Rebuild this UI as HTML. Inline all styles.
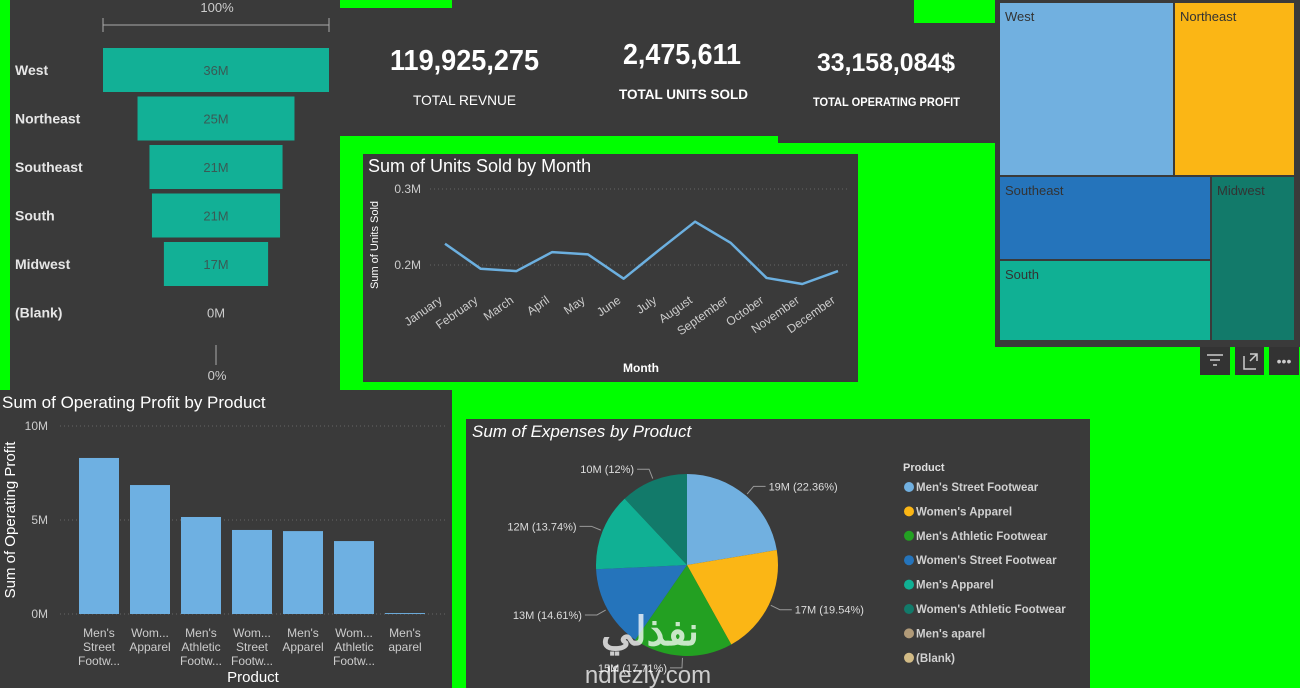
<!DOCTYPE html>
<html><head><meta charset="utf-8"><style>
html,body{margin:0;padding:0;background:#00ff00;}
svg{display:block;font-family:"Liberation Sans",sans-serif;}
.n{font-family:"Liberation Sans Narrow","Liberation Sans",sans-serif;}
</style></head><body>
<svg id="dash" width="1300" height="688" viewBox="0 0 1300 688">
<rect x="0" y="0" width="1300" height="688" fill="#00ff00"/>
<!-- funnel panel -->
<g>
<rect x="10" y="0" width="330" height="390" fill="#3a3a3a"/>
<text x="217" y="12" fill="#ccc" font-size="13" text-anchor="middle">100%</text>
<path d="M103 18 V32 M103 25 H329 M329 18 V32" stroke="#aaa" fill="none"/>
<g id="funnel"></g>
<line x1="216" y1="345" x2="216" y2="365" stroke="#aaa"/>
<text x="217" y="380" fill="#ccc" font-size="13" text-anchor="middle">0%</text>
</g>
<!-- KPI panel -->
<g>
<rect x="340" y="0" width="655" height="143" fill="#3a3a3a"/>
<rect x="340" y="0" width="112" height="8" fill="#00ff00"/>
<rect x="914" y="0" width="81" height="23" fill="#00ff00"/>
<rect x="340" y="136" width="438" height="7" fill="#00ff00"/>
<text class="n" x="390" y="70" fill="#fff" font-size="29" font-weight="bold" textLength="149" lengthAdjust="spacingAndGlyphs">119,925,275</text>
<text class="n" x="413" y="105" fill="#fff" font-size="14" textLength="103" lengthAdjust="spacingAndGlyphs">TOTAL REVNUE</text>
<text class="n" x="623" y="64" fill="#fff" font-size="29" font-weight="bold" textLength="118" lengthAdjust="spacingAndGlyphs">2,475,611</text>
<text class="n" x="619" y="99" fill="#fff" font-size="14" font-weight="bold" textLength="129" lengthAdjust="spacingAndGlyphs">TOTAL UNITS SOLD</text>
<text class="n" x="817" y="71" fill="#fff" font-size="25" font-weight="bold" textLength="138" lengthAdjust="spacingAndGlyphs">33,158,084$</text>
<text class="n" x="813" y="106" fill="#fff" font-size="12" font-weight="bold" textLength="147" lengthAdjust="spacingAndGlyphs">TOTAL OPERATING PROFIT</text>
</g>
<!-- line chart -->
<g>
<rect x="363" y="154" width="495" height="228" fill="#3a3a3a"/>
<text x="368" y="172" fill="#fff" font-size="18">Sum of Units Sold by Month</text>
<text transform="translate(378,245) rotate(-90)" fill="#fff" font-size="11" text-anchor="middle">Sum of Units Sold</text>
<text x="641" y="372" fill="#fff" font-size="12" font-weight="bold" text-anchor="middle">Month</text>
<g id="line"></g>
</g>
<!-- treemap -->
<g>
<rect x="995" y="0" width="305" height="347" fill="#3a3a3a"/>
<g id="tree"></g>
<rect x="1200" y="347" width="30" height="28" fill="#333"/>
<path d="M1207 355 H1223 M1210 360 H1220 M1213 365 H1217" stroke="#ccc" stroke-width="1.5"/>
<rect x="1235" y="347" width="29" height="28" fill="#333"/>
<path d="M1244 356 V369 H1256 M1250 354 H1257 V361 M1257 354 L1250 361" stroke="#ccc" stroke-width="1.5" fill="none"/>
<rect x="1269" y="347" width="30" height="28" fill="#333"/>
<text x="1284" y="366" fill="#ccc" font-size="14" text-anchor="middle">•••</text>
</g>
<!-- bar chart -->
<g>
<rect x="0" y="390" width="452" height="298" fill="#3a3a3a"/>
<text x="2" y="408" fill="#fff" font-size="17">Sum of Operating Profit by Product</text>
<text transform="translate(15,520) rotate(-90)" fill="#fff" font-size="15" text-anchor="middle">Sum of Operating Profit</text>
<text x="253" y="682" fill="#fff" font-size="15" text-anchor="middle">Product</text>
<g id="bars"></g>
</g>
<!-- pie -->
<g>
<rect x="466" y="419" width="624" height="269" fill="#3a3a3a"/>
<text x="472" y="437" fill="#fff" font-size="17" font-style="italic">Sum of Expenses by Product</text>
<text x="903" y="471" fill="#ddd" font-size="11" font-weight="bold">Product</text>
<g id="pie"></g>
<g id="legend"></g>
<text x="650" y="645" fill="#fff" opacity="0.75" font-size="40" font-weight="bold" text-anchor="middle" font-family="'Liberation Sans','Noto Sans CJK SC',sans-serif">نفذلي</text>
<text x="648" y="683" fill="#fff" opacity="0.75" font-size="24" text-anchor="middle">ndfezly.com</text>
</g>
</svg>
<script>
const NS="http://www.w3.org/2000/svg";
function mk(p,t,a){const e=document.createElementNS(NS,t);for(const k in a)e.setAttribute(k,a[k]);p.appendChild(e);return e;}

// funnel data
const regions=["West","Northeast","Southeast","South","Midwest","(Blank)"];
const regionRevenue=[36,25,21.2,20.4,16.6,0];
const regionLabels=["36M","25M","21M","21M","17M","0M"];
// line data
const months=["January","February","March","April","May","June","July","August","September","October","November","December"];
const unitsSold=[0.228,0.195,0.192,0.217,0.214,0.182,0.220,0.257,0.229,0.183,0.175,0.192];
const lineTicks=[0.2,0.3];
const lineTickLabels=["0.2M","0.3M"];
// bar data
const products=[["Men's","Street","Footw..."],["Wom...","Apparel"],["Men's","Athletic","Footw..."],["Wom...","Street","Footw..."],["Men's","Apparel"],["Wom...","Athletic","Footw..."],["Men's","aparel"]];
const profit=[8.3,6.86,5.16,4.47,4.41,3.88,0.05];
const barTicks=[0,5,10];
const barTickLabels=["0M","5M","10M"];
// pie data
const pieNames=["Men's Street Footwear","Women's Apparel","Men's Athletic Footwear","Women's Street Footwear","Men's Apparel","Women's Athletic Footwear","Men's aparel","(Blank)"];
const pieValues=[22.36,19.54,17.71,14.61,13.74,12,0,0];
const pieLabels=["19M (22.36%)","17M (19.54%)","15M (17.71%)","13M (14.61%)","12M (13.74%)","10M (12%)","",""];
const pieColors=["#71b0e0","#fbb615","#23a022","#2574bb","#10b094","#127a6a","#b09a78","#d2bb86"];
// treemap data
const treeNames=["West","Northeast","Southeast","South","Midwest"];
const treeColors=["#71b0e0","#fbb615","#2574bb","#10b094","#127a6a"];

// funnel
(function(){
 const g=document.getElementById('funnel');const cx=216,maxW=226,y0=48,step=48.5,h=44;
 const mx=Math.max(...regionRevenue);
 regions.forEach((r,i)=>{
  const w=regionRevenue[i]/mx*maxW,y=y0+i*step;
  const t=mk(g,'text',{x:15,y:y+h/2+5,fill:'#e6e6e6','font-size':14,'font-weight':'bold'});t.textContent=r;
  
  
  if(w>0){const b=mk(g,'rect',{x:cx-w/2,y:y,width:w,height:h,fill:'#12b096'});
  
  }
  const v=mk(g,'text',{x:cx,y:y+h/2+5,fill:'#3a5a55','font-size':13,'text-anchor':'middle'});v.textContent=regionLabels[i];
  if(w===0)v.setAttribute('fill','#ccc');
  
  
 });
})();

// line chart
(function(){
 const g=document.getElementById('line');
 const x0=445,x1=838,yv=v=>265-(v-0.2)/0.1*76;
 const xs=i=>x0+i*(x1-x0)/(months.length-1);
 lineTicks.forEach((t,i)=>{
  const l=mk(g,'line',{x1:430,x2:850,y1:yv(t),y2:yv(t),stroke:'#666','stroke-dasharray':'1 3'});
  
  
  const tx=mk(g,'text',{x:421,y:yv(t)+4,fill:'#ccc','font-size':12,'text-anchor':'end'});tx.textContent=lineTickLabels[i];
  
  
 });
 const p=mk(g,'polyline',{points:unitsSold.map((v,i)=>xs(i)+','+yv(v)).join(' '),fill:'none',stroke:'#6cb0e0','stroke-width':2.5,'stroke-linejoin':'round'});
 
 
 months.forEach((m,i)=>{
  const t=mk(g,'text',{transform:`translate(${xs(i)-2},${302}) rotate(-35)`,fill:'#ccc','font-size':12,'text-anchor':'end'});t.textContent=m;
  
  
 });
})();

// treemap
(function(){
 const g=document.getElementById('tree');
 const cells=[[1000,3,173,172],[1175,3,119,172],[1000,177,210,82],[1000,261,210,79],[1212,177,82,163]];
 treeNames.forEach((n,i)=>{
  const c=cells[i];
  const r=mk(g,'rect',{x:c[0],y:c[1],width:c[2],height:c[3],fill:treeColors[i]});
  
  
  const t=mk(g,'text',{x:c[0]+5,y:c[1]+18,fill:'#333','font-size':13});t.textContent=n;
  
  
 });
})();

// bars
(function(){
 const g=document.getElementById('bars');
 const yv=v=>614-v/10*188,x0=79,step=51,bw=40;
 barTicks.forEach((t,i)=>{
  const l=mk(g,'line',{x1:60,x2:447,y1:yv(t),y2:yv(t),stroke:'#666','stroke-dasharray':'1 3'});
  
  
  const tx=mk(g,'text',{x:48,y:yv(t)+4,fill:'#ccc','font-size':12,'text-anchor':'end'});tx.textContent=barTickLabels[i];
  
  
 });
 profit.forEach((v,i)=>{
  const x=x0+i*step;
  const r=mk(g,'rect',{x:x,y:yv(v),width:bw,height:614-yv(v),fill:'#6eb0e2'});
  
  
  products[i].forEach((ln,j)=>{
   const t=mk(g,'text',{x:x+bw/2,y:637+j*14,fill:'#ccc','font-size':12,'text-anchor':'middle'});t.textContent=ln;
   
   
  });
 });
})();

// pie
(function(){
 const g=document.getElementById('pie');const cx=687,cy=565,r=91;
 const tot=pieValues.reduce((a,b)=>a+b,0);let a=-Math.PI/2;
 pieValues.forEach((v,i)=>{
  if(v<=0)return;
  const a2=a+v/tot*2*Math.PI;
  const large=(a2-a)>Math.PI?1:0;
  const d=`M${cx},${cy} L${cx+r*Math.cos(a)},${cy+r*Math.sin(a)} A${r},${r} 0 ${large} 1 ${cx+r*Math.cos(a2)},${cy+r*Math.sin(a2)} Z`;
  const s=mk(g,'path',{d:d,fill:pieColors[i]});
  
  
  const m=(a+a2)/2;
  const ex=cx+(r+2)*Math.cos(m),ey=cy+(r+2)*Math.sin(m);
  const ox=cx+(r+12)*Math.cos(m),oy=cy+(r+12)*Math.sin(m);
  const right=Math.cos(m)>=0;
  const lx=ox+(right?12:-12);
  const ln=mk(g,'polyline',{points:`${ex},${ey} ${ox},${oy} ${lx},${oy}`,fill:'none',stroke:'#999'});
  
  
  const t=mk(g,'text',{x:lx+(right?3:-3),y:oy+4,fill:'#ddd','font-size':11,'text-anchor':right?'start':'end'});t.textContent=pieLabels[i];
  
  
  a=a2;
 });
 const lg=document.getElementById('legend');
 pieNames.forEach((n,i)=>{
  const y=487+i*24.4;
  const c=mk(lg,'circle',{cx:909,cy:y,r:5,fill:pieColors[i]});
  
  
  const t=mk(lg,'text',{x:916,y:y+4,fill:'#d0d0d0','font-size':11.5,'font-weight':'bold'});t.textContent=n;
  
  
 });
})();
</script>
</body></html>
